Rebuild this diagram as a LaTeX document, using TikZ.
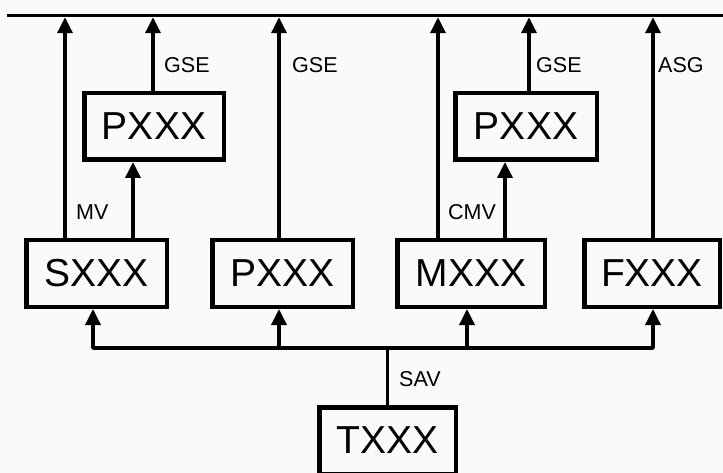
\documentclass[tikz,border=0pt]{standalone}
\usepackage{fontspec}
\setmainfont{Liberation Sans}
\usetikzlibrary{arrows.meta}
\definecolor{bg}{RGB}{250,250,250}
\begin{document}
\begin{tikzpicture}[x=1pt,y=-1pt,
  ln/.style={line width=3.5pt,line join=round},
  arr/.style={line width=3.5pt,line join=round,-{Triangle[length=16pt,width=15pt]}},
  box/.style={draw,line width=4.5pt,minimum height=66.5pt,inner sep=0pt,font=\fontsize{39}{40}\selectfont},
  lbl/.style={inner sep=0pt,anchor=base west,font=\fontsize{21.5}{22}\selectfont}]
\fill[bg] (0,0) rectangle (723,473);
\useasboundingbox (0,0) rectangle (723,473);
% boxes
\node[box,minimum width=139.5pt] (P1) at (154,126.5) {PXXX};
\node[box,minimum width=141.5pt] (P2) at (526,126.5) {PXXX};
\node[box,minimum width=140.5pt] (S) at (96.5,273.5) {SXXX};
\node[box,minimum width=140.5pt] (P) at (282.5,273.5) {PXXX};
\node[box,minimum width=147.5pt] (M) at (471,273.5) {MXXX};
\node[box,minimum width=135.5pt] (F) at (652,273.5) {FXXX};
\node[box,minimum width=136.5pt] (T) at (387.5,440.5) {TXXX};
% top line
\coordinate (L) at (7,15.5);
\coordinate (R) at (723,15.5);
\draw[ln] (L) -- (R);
\coordinate (a1) at (65,17.25);
\coordinate (a2) at (153,17.25);
\coordinate (a3) at (279,17.25);
\coordinate (a4) at (438,17.25);
\coordinate (a5) at (529,17.25);
\coordinate (a6) at (653,17.25);
\draw[arr] (S.north -| a1) -- (a1);
\draw[arr] (P1.north -| a2) -- (a2);
\draw[arr] (P.north -| a3) -- (a3);
\draw[arr] (M.north -| a4) -- (a4);
\draw[arr] (P2.north -| a5) -- (a5);
\draw[arr] (F.north -| a6) -- (a6);
% inner arrows
\coordinate (b1) at (133,200);
\coordinate (b2) at (505,200);
\draw[arr] (S.north -| b1) -- (P1.south -| b1);
\draw[arr] (M.north -| b2) -- (P2.south -| b2);
% bus
\coordinate (bus) at (387.5,348);
\coordinate (c1) at (93,348);
\coordinate (c2) at (279,348);
\coordinate (c3) at (467,348);
\coordinate (c4) at (653,348);
\draw[ln] (T.north) -- (bus);
\draw[arr] (bus) -| (S.south -| c1);
\draw[arr] (bus) -| (F.south -| c4);
\draw[arr] (c2) -- (P.south -| c2);
\draw[arr] (c3) -- (M.south -| c3);
% labels
\node[lbl] (g1) at (164,73) {GSE};
\node[lbl] (g2) at (292,73) {GSE};
\node[lbl] (g3) at (536,73) {GSE};
\node[lbl] (as) at (658,73) {ASG};
\node[lbl] (mv) at (76,220) {MV};
\node[lbl] (cmv) at (448,220) {CMV};
\node[lbl] (sav) at (399,386) {SAV};
\end{tikzpicture}
\end{document}
